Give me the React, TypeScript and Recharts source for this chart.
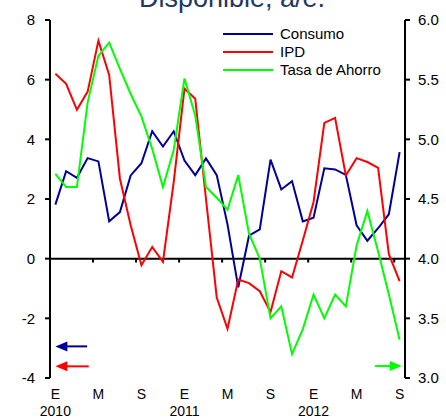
import { Legend, Line, LineChart, ReferenceLine, XAxis, YAxis } from "recharts";

// Monthly series, Jan 2010 - Sep 2012 (index 0 = E 2010)
const meses = ["E", "F", "M", "A", "M", "J", "J", "A", "S", "O", "N", "D"];
const anioInicial = 2010;

const consumo = [
  1.81, 2.93, 2.71, 3.37, 3.26, 1.25, 1.56, 2.79, 3.2, 4.27, 3.76, 4.27,
  3.29, 2.8, 3.36, 2.8, 1.15, -0.96, 0.77, 0.98, 3.32, 2.32, 2.6, 1.25,
  1.37, 3.03, 2.99, 2.81, 1.12, 0.6, 1.02, 1.49, 3.57
];
const ipd = [
  6.2, 5.86, 4.99, 5.6, 7.31, 6.16, 2.68, 1.12, -0.22, 0.39, -0.11, 2.57,
  5.7, 5.36, 2.0, -1.3, -2.35, -0.7, -0.82, -1.09, -1.79, -0.42, -0.63, 0.61,
  1.9, 4.55, 4.72, 2.79, 3.37, 3.24, 3.04, 0.15, -0.75
];
// tasa de ahorro, right axis
const tasa = [
  4.71, 4.6, 4.6, 5.31, 5.7, 5.81, 5.59, 5.38, 5.19, 4.92, 4.6, 4.91,
  5.51, 5.2, 4.6, 4.51, 4.41, 4.7, 4.21, 4.0, 3.5, 3.6, 3.2, 3.41,
  3.7, 3.5, 3.7, 3.6, 4.11, 4.4, 4.06, 3.7, 3.32
];

const xTicks = [0, 4, 8, 12, 16, 20, 24, 28, 32];
const xBoundaries = [3.5, 7.5, 11.5, 15.5, 19.5, 23.5, 27.5, 31.5];
const leftTicks = [-4, -2, 0, 2, 4, 6, 8];
const rightTicks = [3.0, 3.5, 4.0, 4.5, 5.0, 5.5, 6.0];

const series = [
  { key: "consumo", name: "Consumo", color: "#000099", axis: "left" },
  { key: "ipd", name: "IPD", color: "#ff0000", axis: "left" },
  { key: "tasa", name: "Tasa de Ahorro", color: "#00ff00", axis: "right" }
];

const data = consumo.map((c, i) => ({ idx: i, consumo: c, ipd: ipd[i], tasa: tasa[i] }));

const FONT = "'Liberation Sans', Arial, sans-serif";

function MonthTick(props: any) {
  const { x, y, payload } = props;
  const i = payload.value as number;
  const year = i % 12 === 0 ? anioInicial + i / 12 : null;
  return (
    <g>
      <text x={x} y={y + 21} textAnchor="middle" fontSize={14} fill="#000" fontFamily={FONT}>
        {meses[i % 12]}
      </text>
      {year !== null && (
        <text x={x} y={y + 37.5} textAnchor="middle" fontSize={14} fill="#000" fontFamily={FONT}>
          {year}
        </text>
      )}
    </g>
  );
}

const arrow = (color: string) => (p: any) => {
  const { x1, y1, x2, y2 } = p;
  if (x1 == null || x2 == null) return <g />;
  const dir = x2 > x1 ? 1 : -1;
  const head = 12;
  return (
    <g>
      <line x1={x1} y1={y1} x2={x2 - dir * head * 0.7} y2={y2} stroke={color} strokeWidth={2} />
      <polygon
        points={`${x2},${y2} ${x2 - dir * head},${y2 - 5} ${x2 - dir * head},${y2 + 5}`}
        fill={color}
      />
    </g>
  );
};

function LegendBox() {
  return (
    <div style={{ fontFamily: FONT, fontSize: 15, color: "#000" }}>
      {series.map((s) => (
        <div key={s.key} style={{ display: "flex", alignItems: "center", height: 18 }}>
          <svg width={50} height={18} style={{ display: "block" }}>
            <line x1={0} y1={9} x2={50} y2={9} stroke={s.color} strokeWidth={2} />
          </svg>
          <span style={{ marginLeft: 7, lineHeight: "18px", whiteSpace: "nowrap" }}>{s.name}</span>
        </div>
      ))}
    </div>
  );
}

export default function App() {
  return (
    <div style={{ position: "absolute", left: 0, top: 0, width: 446, height: 419, fontFamily: FONT }}>
      <LineChart width={446} height={419} data={data} margin={{ top: 20, right: 0, bottom: 0, left: 0 }}>
        <XAxis
          dataKey="idx"
          type="number"
          domain={[-0.5, 32.5]}
          ticks={xTicks}
          interval={0}
          axisLine={false}
          tickLine={false}
          tickSize={0}
          tickMargin={0}
          height={41}
          tick={<MonthTick />}
        />
        <YAxis
          yAxisId="left"
          domain={[-4, 8]}
          ticks={leftTicks}
          interval={0}
          width={50}
          tickSize={5}
          tickMargin={10}
          axisLine={{ stroke: "#000", strokeWidth: 2 }}
          tickLine={{ stroke: "#000", strokeWidth: 2 }}
          tick={{ fill: "#000", fontSize: 15, fontFamily: FONT }}
        />
        <YAxis
          yAxisId="right"
          orientation="right"
          domain={[3, 6]}
          ticks={rightTicks}
          interval={0}
          width={41}
          tickSize={5}
          tickMargin={8}
          tickFormatter={(v: number) => v.toFixed(1)}
          axisLine={{ stroke: "#000", strokeWidth: 2 }}
          tickLine={{ stroke: "#000", strokeWidth: 2 }}
          tick={{ fill: "#000", fontSize: 15, fontFamily: FONT }}
        />
        <ReferenceLine yAxisId="left" y={0} stroke="#000" strokeWidth={2} />
        {xBoundaries.map((b) => (
          <ReferenceLine
            key={b}
            yAxisId="left"
            segment={[{ x: b, y: 0 }, { x: b, y: -0.13 }]}
            stroke="#000"
            strokeWidth={2}
          />
        ))}
        <ReferenceLine
          yAxisId="left"
          ifOverflow="visible"
          segment={[{ x: 2.95, y: -2.94 }, { x: 0, y: -2.94 }]}
          shape={arrow("#000099")}
        />
        <ReferenceLine
          yAxisId="left"
          ifOverflow="visible"
          segment={[{ x: 3.1, y: -3.61 }, { x: 0, y: -3.61 }]}
          shape={arrow("#ff0000")}
        />
        <ReferenceLine
          yAxisId="right"
          ifOverflow="visible"
          segment={[{ x: 29.7, y: 3.1 }, { x: 32.2, y: 3.1 }]}
          shape={arrow("#00ff00")}
        />
        {series.map((s) => (
          <Line
            key={s.key}
            yAxisId={s.axis}
            type="linear"
            dataKey={s.key}
            name={s.name}
            stroke={s.color}
            strokeWidth={2}
            dot={false}
            isAnimationActive={false}
          />
        ))}
        <Legend
          layout="horizontal"
          verticalAlign="middle"
          align="center"
          wrapperStyle={{ top: 25, left: 223, width: 200, height: 54 }}
          content={() => <LegendBox />}
        />
      </LineChart>
      <svg
        width={446}
        height={20}
        style={{ position: "absolute", left: 0, top: 0, pointerEvents: "none" }}
      >
        <text x={232} y={7} textAnchor="middle" fontSize={27} fill="#1f3864" fontFamily={FONT}>
          Disponible, a/e.
        </text>
      </svg>
    </div>
  );
}
